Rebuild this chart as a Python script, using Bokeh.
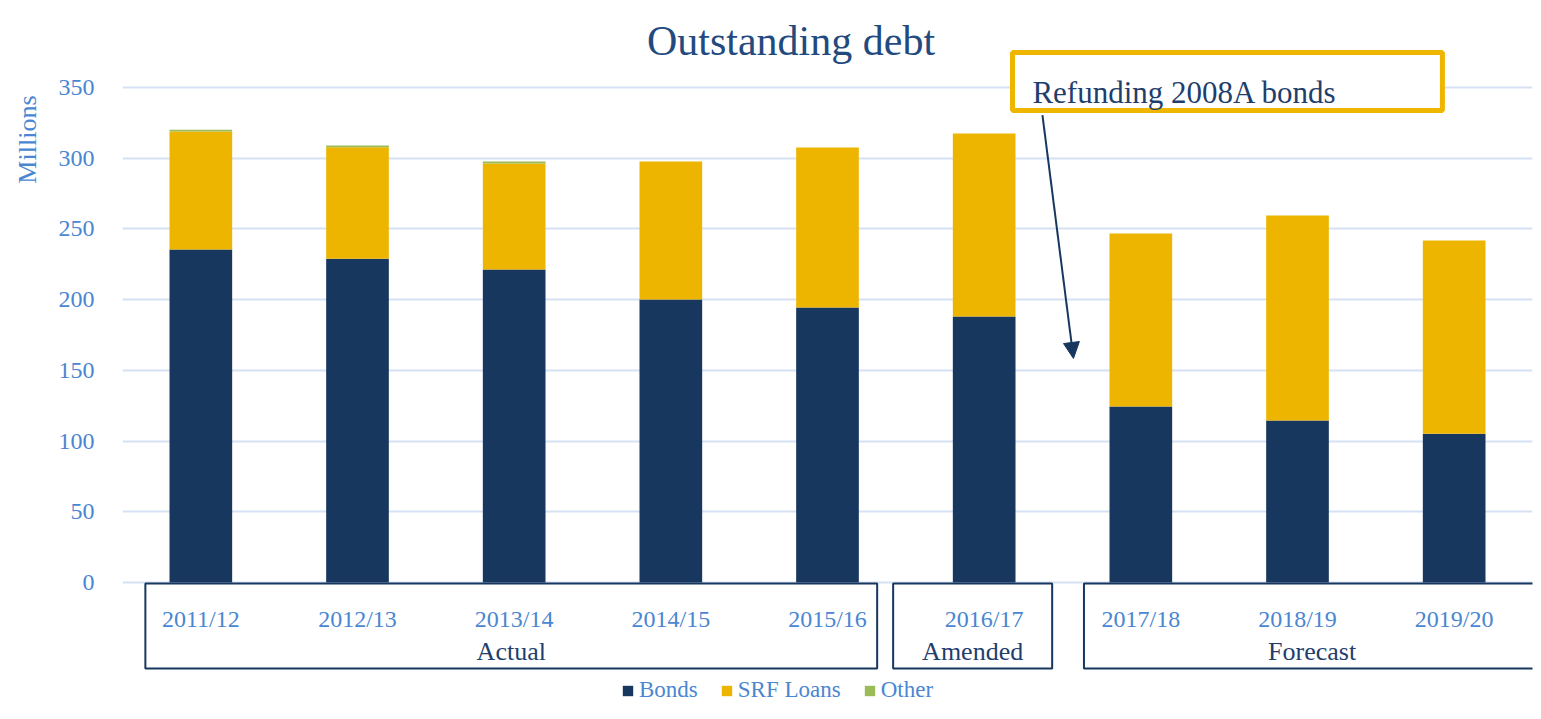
from bokeh.plotting import figure
from bokeh.models import ColumnDataSource, Range1d, FixedTicker, Arrow, NormalHead, Title
from bokeh.core.properties import value
from bokeh.embed import file_html
from bokeh.resources import INLINE

# ---------------- data ----------------
years = ["2011/12", "2012/13", "2013/14", "2014/15", "2015/16",
         "2016/17", "2017/18", "2018/19", "2019/20"]
bonds = [235.5, 228.9, 221.3, 200.1, 194.5, 188.1, 124.5, 114.6, 105.2]
srf_loans = [83.4, 78.9, 75.0, 97.6, 113.1, 129.4, 122.3, 144.9, 136.6]
other = [1.2, 1.2, 1.4, 0.0, 0.0, 0.0, 0.0, 0.0, 0.0]
series_names = ["Bonds", "SRF Loans", "Other"]
y_ticks = [0, 50, 100, 150, 200, 250, 300, 350]

groups = ["Actual", "Amended", "Forecast"]
group_first = [0, 5, 6]
group_last = [4, 5, 8]

title_text = "Outstanding debt"
note_text = "Refunding 2008A bonds"
y_label = "Millions"

# ---------------- style ----------------
FONT = value("Liberation Serif")
NAVY = "#17375e"
GOLD = "#edb500"
GREEN = "#9bbb59"
BLUE_TXT = "#4a86d2"
DARK_TXT = "#1f3e6d"
TITLE_TXT = "#234a7e"
GRID = "#d6e2f3"

box_pad_left = [0.354, 0.581, 0.363]
box_pad_right = [0.317, 0.434, 0.55]
box_top, box_bottom = -0.7, -60.8
year_label_y = -25.5
group_label_y = -48.8

x = list(range(len(years)))
source = ColumnDataSource(dict(x=x, year=years, bonds=bonds, srf=srf_loans, other=other))

p = figure(width=1533, height=703,
           x_range=Range1d(-0.5, len(years) - 0.5),
           y_range=Range1d(-85.6, 411.5),
           output_backend="svg", toolbar_location=None,
           min_border_left=122, min_border_right=1,
           min_border_top=0, min_border_bottom=0)

p.outline_line_color = None
p.background_fill_color = "white"
p.border_fill_color = "white"

# axes
p.xaxis.visible = False
p.xgrid.visible = False
ya = p.yaxis[0]
ya.ticker = FixedTicker(ticks=y_ticks)
ya.axis_line_color = None
ya.major_tick_line_color = None
ya.minor_tick_line_color = None
ya.major_label_standoff = 22
ya.major_label_text_font = "Liberation Serif"
ya.major_label_text_font_size = "24px"
ya.major_label_text_color = BLUE_TXT

# y axis title near the top of the left side
p.add_layout(Title(text=y_label, align="right", offset=95, vertical_align="top",
                   standoff=24, text_font="Liberation Serif", text_font_size="26px",
                   text_font_style="normal", text_color=BLUE_TXT), "left")

p.ygrid.ticker = FixedTicker(ticks=y_ticks)
p.ygrid.grid_line_color = GRID
p.ygrid.grid_line_width = 2

# bars
p.vbar_stack(["bonds", "srf", "other"], x="x", width=0.4, source=source,
             fill_color=[NAVY, GOLD, GREEN], line_color=None,
             legend_label=series_names)

# category labels
p.text(x="x", y=year_label_y, text="year", source=source,
       text_font=FONT, text_font_size="24px", text_color=BLUE_TXT,
       text_align="center", text_baseline="alphabetic")

# group boxes and labels
lefts = [f - pl for f, pl in zip(group_first, box_pad_left)]
rights = [l + pr for l, pr in zip(group_last, box_pad_right)]
p.quad(left=lefts, right=rights, top=box_top, bottom=box_bottom,
       fill_color=None, line_color=NAVY, line_width=2)
mids = [(a + b) / 2 for a, b in zip(lefts, rights)]
p.text(x=mids, y=group_label_y, text=groups,
       text_font=FONT, text_font_size="26px", text_color=DARK_TXT,
       text_align="center", text_baseline="alphabetic")

# title
p.text(x=[3.767], y=[383.2], text=[title_text], text_font=FONT,
       text_font_size="42px", text_color=TITLE_TXT,
       text_align="center", text_baseline="alphabetic")

# annotation box
p.quad(left=[5.181], right=[7.925], top=[374.7], bottom=[333.7],
       fill_color="white", line_color="#efb600", line_width=5)
p.text(x=[5.308], y=[346.5], text=[note_text], text_font=FONT,
       text_font_size="31px", text_color=DARK_TXT,
       text_align="left", text_baseline="alphabetic")
p.add_layout(Arrow(end=NormalHead(size=16, fill_color=NAVY, line_color=NAVY),
                   x_start=5.372, y_start=330.5, x_end=5.570, y_end=158.4,
                   line_color=NAVY, line_width=2))

# legend
lg = p.legend[0]
lg.orientation = "horizontal"
lg.location = (499, 0)
lg.padding = 0
lg.margin = 0
lg.border_line_color = None
lg.background_fill_alpha = 0
lg.glyph_width = 13
lg.glyph_height = 13
lg.label_standoff = 5
lg.spacing = 22
lg.label_text_font = "Liberation Serif"
lg.label_text_font_size = "23px"
lg.label_text_color = BLUE_TXT
lg.label_height = 22

open("out.html", "w").write(file_html(p, INLINE))
